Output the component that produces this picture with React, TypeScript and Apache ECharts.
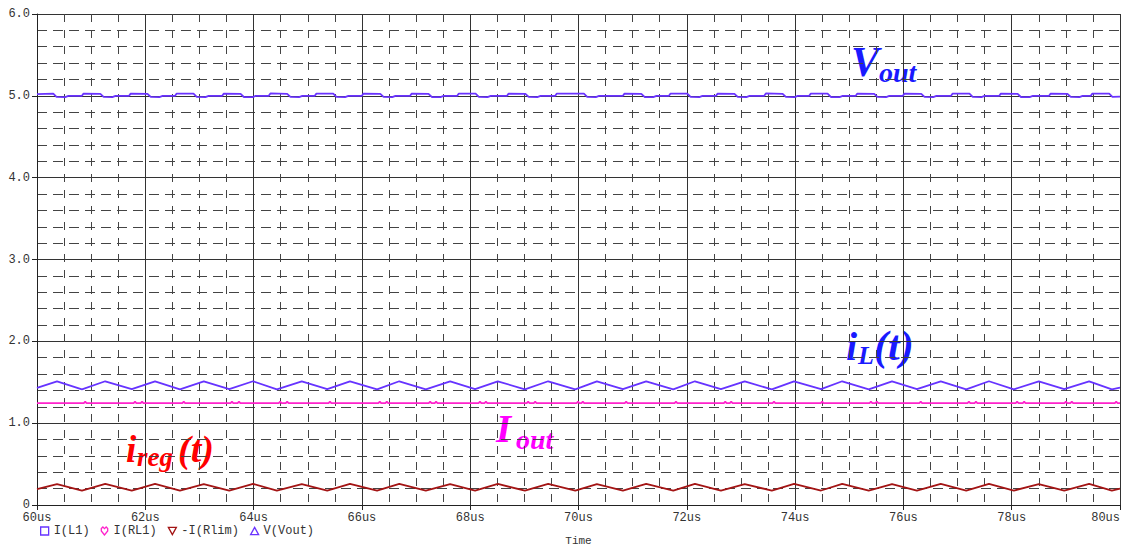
import React, { useEffect, useRef } from "react";
import * as echarts from "echarts";

// ---------- axis ranges / ticks ----------
const X_MIN = 60;
const X_MAX = 80;
const X_STEP = 2;
const Y_MIN = 0;
const Y_MAX = 6;
const Y_STEP = 1;
const X_AXIS_NAME = "Time";

// ---------- series names ----------
const SERIES_NAMES = ["I(L1)", "I(RL1)", "-I(Rlim)", "V(Vout)"];

// ---------- I(L1) and -I(Rlim): vertex times (us) ----------
const IL_T = [
  60.0, 60.37, 60.83, 61.26, 61.75, 62.18, 62.64, 63.08, 63.55, 63.99, 64.43, 64.89,
  65.36, 65.78, 66.28, 66.69, 67.18, 67.63, 68.09, 68.51, 69.01, 69.44, 69.94, 70.34,
  70.82, 71.25, 71.75, 72.15, 72.63, 73.07, 73.57, 73.98, 74.48, 74.87, 75.36, 75.79,
  76.25, 76.69, 77.16, 77.58, 78.04, 78.5, 78.97, 79.43, 79.85, 80.0,
];
const IL_V = [
  1.43,
  1.51, 1.414, 1.512, 1.415, 1.511, 1.413, 1.51, 1.415, 1.512, 1.414, 1.51, 1.415,
  1.511, 1.413, 1.512, 1.414, 1.51, 1.415, 1.511, 1.414, 1.512, 1.413, 1.51, 1.415,
  1.511, 1.414, 1.512, 1.415, 1.51, 1.413, 1.511, 1.415, 1.512, 1.414, 1.51, 1.415,
  1.511, 1.413, 1.512, 1.414, 1.51, 1.415, 1.511, 1.414,
  1.435,
];
const IREG_V = [
  0.195,
  0.256, 0.176, 0.258, 0.177, 0.257, 0.175, 0.256, 0.177, 0.258, 0.176, 0.256, 0.177,
  0.257, 0.175, 0.258, 0.176, 0.256, 0.177, 0.257, 0.176, 0.258, 0.175, 0.256, 0.177,
  0.257, 0.176, 0.258, 0.177, 0.256, 0.175, 0.257, 0.177, 0.258, 0.176, 0.256, 0.177,
  0.257, 0.175, 0.258, 0.176, 0.256, 0.177, 0.257, 0.176,
  0.2,
];

// ---------- I(RL1): flat level with tiny blips ----------
const IOUT_LEVEL = 1.245;
const IOUT_BLIP_PEAK = 1.262;
const IOUT_BLIP_T = [
  60.89, 61.81, 61.94, 62.71, 63.6, 63.73, 64.49, 64.62, 65.41, 66.33, 66.46, 67.26,
  67.37, 68.18, 68.29, 69.07, 69.2, 69.99, 70.08, 70.88, 71.8, 72.71, 72.82, 73.61,
  74.5, 75.4, 75.51, 76.32, 77.21, 77.34, 78.1, 78.23, 79.0, 79.11, 79.93,
];

// ---------- V(Vout): points ----------
const VOUT_POINTS: [number, number][] = [
  [60.0, 5.02], [60.3, 5.026], [60.36, 4.988], [60.52, 4.985], [60.58, 5.0],
  [60.83, 5.0], [60.86, 5.028], [61.17, 5.024], [61.23, 4.988], [61.39, 4.984], [61.45, 5.0],
  [61.7, 5.0], [61.73, 5.027], [62.04, 5.025], [62.1, 4.987], [62.26, 4.985], [62.32, 5.0],
  [62.55, 5.0], [62.58, 5.028], [62.89, 5.026], [62.95, 4.988], [63.11, 4.984], [63.17, 5.0],
  [63.42, 5.0], [63.45, 5.027], [63.76, 5.024], [63.82, 4.986], [63.98, 4.985], [64.04, 5.0],
  [64.28, 5.0], [64.31, 5.029], [64.62, 5.025], [64.68, 4.988], [64.84, 4.984], [64.9, 5.0],
  [65.13, 5.0], [65.16, 5.027], [65.47, 5.026], [65.53, 4.987], [65.69, 4.985], [65.75, 5.0],
  [66.0, 5.0], [66.03, 5.028], [66.34, 5.024], [66.4, 4.988], [66.56, 4.984], [66.62, 5.0],
  [66.89, 5.0], [66.92, 5.027], [67.23, 5.025], [67.29, 4.986], [67.45, 4.985], [67.51, 5.0],
  [67.76, 5.0], [67.79, 5.028], [68.1, 5.026], [68.16, 4.988], [68.32, 4.984], [68.38, 5.0],
  [68.68, 5.0], [68.71, 5.027], [69.02, 5.024], [69.08, 4.987], [69.24, 4.985], [69.3, 5.0],
  [69.57, 5.0], [69.6, 5.028], [70.1, 5.026], [70.16, 4.988], [70.32, 4.984], [70.38, 5.0],
  [70.82, 5.0], [70.85, 5.027], [71.16, 5.025], [71.22, 4.986], [71.38, 4.985], [71.44, 5.0],
  [71.67, 5.0], [71.7, 5.028], [72.01, 5.026], [72.07, 4.988], [72.23, 4.984], [72.29, 5.0],
  [72.54, 5.0], [72.57, 5.027], [72.88, 5.024], [72.94, 4.987], [73.1, 4.985], [73.16, 5.0],
  [73.43, 5.0], [73.46, 5.029], [73.77, 5.025], [73.83, 4.988], [73.99, 4.984], [74.05, 5.0],
  [74.26, 5.0], [74.29, 5.027], [74.6, 5.026], [74.66, 4.986], [74.82, 4.985], [74.88, 5.0],
  [75.12, 5.0], [75.15, 5.028], [75.46, 5.024], [75.52, 4.988], [75.68, 4.984], [75.74, 5.0],
  [75.99, 5.0], [76.02, 5.027], [76.33, 5.025], [76.39, 4.987], [76.55, 4.985], [76.61, 5.0],
  [76.88, 5.0], [76.91, 5.028], [77.22, 5.026], [77.28, 4.988], [77.44, 4.984], [77.5, 5.0],
  [77.77, 5.0], [77.8, 5.027], [78.11, 5.024], [78.17, 4.986], [78.33, 4.985], [78.39, 5.0],
  [78.69, 5.0], [78.72, 5.028], [79.03, 5.025], [79.09, 4.988], [79.25, 4.984], [79.31, 5.0],
  [79.46, 5.0], [79.49, 5.027], [79.8, 5.026], [79.86, 4.987], [80.0, 4.99],
];

// ---------- styling ----------
const COLORS = ["#6633ff", "#ff22cc", "#a31414", "#6a33ff"];
const MONO = '"Liberation Mono", "DejaVu Sans Mono", monospace';
const SERIF = '"Liberation Serif", "Times New Roman", serif';

function buildIout(): [number, number][] {
  const pts: [number, number][] = [[X_MIN, IOUT_LEVEL]];
  IOUT_BLIP_T.forEach((t) => {
    pts.push([t - 0.025, IOUT_LEVEL], [t, IOUT_BLIP_PEAK], [t + 0.025, IOUT_LEVEL]);
  });
  pts.push([X_MAX, IOUT_LEVEL]);
  return pts;
}

function label(x: number, y: number, text: string, size: number, fill: string) {
  return {
    type: "text",
    x,
    y,
    silent: true,
    style: {
      text,
      fill,
      font: `italic bold ${size}px ${SERIF}`,
      verticalAlign: "middle",
      align: "left",
    },
  };
}

export default function App() {
  const ref = useRef<HTMLDivElement>(null);

  useEffect(() => {
    document.body.style.margin = "0";
    const chart = echarts.init(ref.current!, undefined, { renderer: "svg" });

    const ilData = IL_T.map((t, i) => [t, IL_V[i]]);
    const iregData = IL_T.map((t, i) => [t, IREG_V[i]]);

    const lineSeries = (name: string, data: any[], color: string) => ({
      name,
      type: "line",
      data,
      showSymbol: false,
      symbol: "none",
      lineStyle: { color, width: 1.8 },
      itemStyle: { color },
      silent: true,
    });

    const option: any = {
      animation: false,
      backgroundColor: "#ffffff",
      grid: {
        left: 37,
        right: 1,
        top: 14,
        bottom: 41,
        containLabel: false,
        outerBoundsMode: "none",
      },
      xAxis: {
        type: "value",
        min: X_MIN,
        max: X_MAX,
        interval: X_STEP,
        name: X_AXIS_NAME,
        nameLocation: "middle",
        nameGap: 30,
        nameTextStyle: { fontFamily: MONO, fontSize: 11, color: "#333" },
        axisLine: { show: true, lineStyle: { color: "#222", width: 1 } },
        axisTick: { show: true, length: 5, lineStyle: { color: "#222" } },
        axisLabel: {
          fontFamily: MONO,
          fontSize: 12,
          color: "#333",
          margin: 7,
          alignMaxLabel: "right",
          formatter: (v: number) => `${v}us`,
        },
        splitLine: { show: true, lineStyle: { color: "#333", width: 1 } },
        minorTick: { show: false, splitNumber: 4 },
        minorSplitLine: { show: true, lineStyle: { color: "#444", width: 1, type: [8, 8] } },
      },
      yAxis: {
        type: "value",
        min: Y_MIN,
        max: Y_MAX,
        interval: Y_STEP,
        axisLine: { show: true, lineStyle: { color: "#222", width: 1 } },
        axisTick: { show: true, length: 5, lineStyle: { color: "#222" } },
        axisLabel: {
          fontFamily: MONO,
          fontSize: 12,
          color: "#333",
          margin: 7,
          formatter: (v: number) => (v === 0 ? "0" : v.toFixed(1)),
        },
        splitLine: { show: true, lineStyle: { color: "#333", width: 1 } },
        minorTick: { show: false, splitNumber: 5 },
        minorSplitLine: { show: true, lineStyle: { color: "#444", width: 1, type: [10, 6] } },
      },
      legend: {
        left: 35,
        top: 520,
        itemWidth: 8,
        itemHeight: 8,
        itemGap: 11,
        selectedMode: false,
        textStyle: { fontFamily: MONO, fontSize: 12, color: "#333" },
        data: [
          {
            name: SERIES_NAMES[0],
            icon: "rect",
            itemStyle: { color: "transparent", borderColor: COLORS[0], borderWidth: 1.3 },
          },
          {
            name: SERIES_NAMES[1],
            icon: "path://M5,10 L1,5 L1,2 L3,0 L5,2 L7,0 L9,2 L9,5 Z",
            itemStyle: { color: "transparent", borderColor: COLORS[1], borderWidth: 1.3 },
          },
          {
            name: SERIES_NAMES[2],
            icon: "path://M0,0 L10,0 L5,9 Z",
            itemStyle: { color: "transparent", borderColor: COLORS[2], borderWidth: 1.3 },
          },
          {
            name: SERIES_NAMES[3],
            icon: "path://M5,0 L10,9 L0,9 Z",
            itemStyle: { color: "transparent", borderColor: COLORS[3], borderWidth: 1.3 },
          },
        ],
      },
      series: [
        lineSeries(SERIES_NAMES[0], ilData, COLORS[0]),
        lineSeries(SERIES_NAMES[1], buildIout(), COLORS[1]),
        lineSeries(SERIES_NAMES[2], iregData, COLORS[2]),
        lineSeries(SERIES_NAMES[3], VOUT_POINTS, COLORS[3]),
      ],
      graphic: {
        elements: [
          // V_out
          label(851, 62, "V", 42, "#1a1aff"),
          label(879, 72, "out", 28, "#1a1aff"),
          // i_L(t)
          label(846, 346, "i", 40, "#1a1aff"),
          label(858, 355, "L", 26, "#1a1aff"),
          label(874, 346, "(t)", 42, "#1a1aff"),
          // I_out
          label(496, 428, "I", 39, "#ff00ff"),
          label(516, 439, "out", 28, "#ff00ff"),
          // i_reg(t)
          label(126, 449, "i", 37, "#ff0000"),
          label(137, 457, "reg", 27, "#ff0000"),
          label(178, 449, "(t)", 38, "#ff0000"),
        ],
      },
    };

    chart.setOption(option);
    return () => chart.dispose();
  }, []);

  return <div ref={ref} style={{ width: 1121, height: 546 }} />;
}
